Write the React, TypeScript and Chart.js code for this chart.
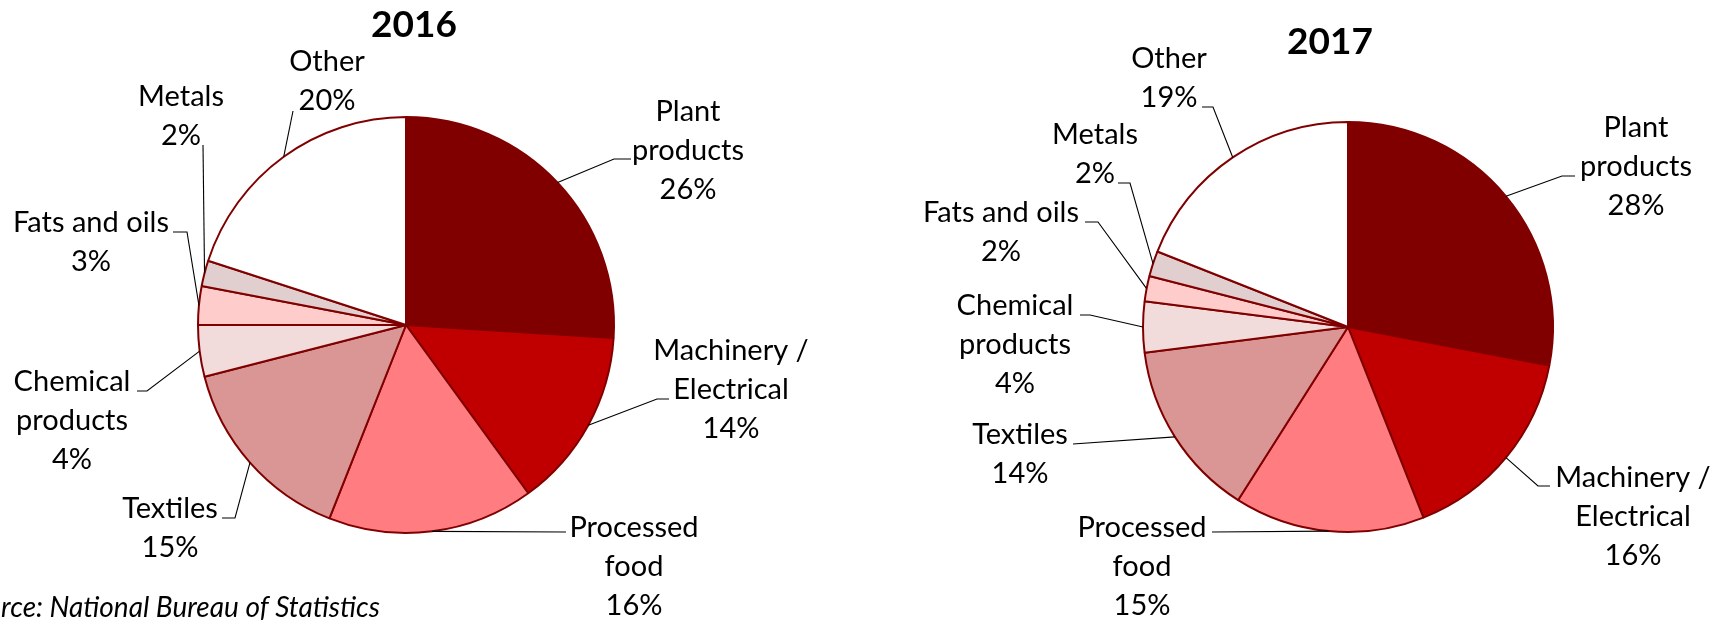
import React, { useEffect, useRef } from "react";
import { Chart, registerables } from "chart.js";

Chart.register(...registerables);

// ---------- data ----------
const categories = [
  "Plant products",
  "Machinery / Electrical",
  "Processed food",
  "Textiles",
  "Chemical products",
  "Fats and oils",
  "Metals",
  "Other",
];
const values2016 = [26, 14, 16, 15, 4, 3, 2, 20];
const values2017 = [28, 16, 15, 14, 4, 2, 2, 19];
const titles = ["2016", "2017"];
const sourceNote = "Source: National Bureau of Statistics";

// ---------- styles / layout ----------
const sliceColors = ["#800000", "#C00000", "#FF7C80", "#D99694", "#F2DCDB", "#FFCCCC", "#E1CFCF", "#FFFFFF"];
const labelLines: Record<string, string[]> = {
  "Plant products": ["Plant", "products"],
  "Machinery / Electrical": ["Machinery /", "Electrical"],
  "Processed food": ["Processed", "food"],
  "Textiles": ["Textiles"],
  "Chemical products": ["Chemical", "products"],
  "Fats and oils": ["Fats and oils"],
  "Metals": ["Metals"],
  "Other": ["Other"],
};
const FONT = "Lato, 'Open Sans', sans-serif";
const LABEL_SIZE = 29;
const LINE_H = 39;

type LabelPos = { dx: number; dy: number; ex: number; ey: number; kx: number };
type PieLayout = {
  left: number;
  width: number;
  cx: number;
  cy: number;
  r: number;
  titleDx: number;
  titleDy: number;
  labels: LabelPos[];
  source: boolean;
};

const layouts: PieLayout[] = [
  {
    left: 0,
    width: 862,
    cx: 406,
    cy: 325,
    r: 208,
    titleDx: 8,
    titleDy: -288,
    source: true,
    labels: [
      { dx: 282, dy: -204, ex: 225, ey: -166, kx: -17 },
      { dx: 325, dy: 35, ex: 263, ey: 74, kx: -12 },
      { dx: 228, dy: 212, ex: 160, ey: 207, kx: 0 },
      { dx: -236, dy: 193, ex: -184, ey: 193, kx: 13 },
      { dx: -334, dy: 66, ex: -269, ey: 66, kx: 10 },
      { dx: -315, dy: -93, ex: -233, ey: -93, kx: 14 },
      { dx: -225, dy: -219, ex: -203, ey: -180, kx: 0 },
      { dx: -79, dy: -254, ex: -113, ey: -214, kx: 0 },
    ],
  },
  {
    left: 862,
    width: 863,
    cx: 1348,
    cy: 327,
    r: 205,
    titleDx: -18,
    titleDy: -273,
    source: false,
    labels: [
      { dx: 288, dy: -190, ex: 227, ey: -151, kx: -13 },
      { dx: 285, dy: 160, ex: 202, ey: 159, kx: -12 },
      { dx: -206, dy: 210, ex: -136, ey: 205, kx: 0 },
      { dx: -328, dy: 117, ex: -275, ey: 117, kx: 0 },
      { dx: -333, dy: -12, ex: -268, ey: -12, kx: 10 },
      { dx: -347, dy: -105, ex: -263, ey: -105, kx: 13 },
      { dx: -253, dy: -183, ex: -230, ey: -144, kx: 12 },
      { dx: -179, dy: -259, ex: -146, ey: -220, kx: 11 },
    ],
  },
];

const HEIGHT = 620;

function PieChart({ values, title, layout }: { values: number[]; title: string; layout: PieLayout }) {
  const ref = useRef<HTMLCanvasElement | null>(null);

  useEffect(() => {
    if (!ref.current) return;
    const lcx = layout.cx - layout.left;
    const hx = 2 * lcx - layout.width;
    const vy = 2 * layout.cy - HEIGHT;
    const padding = {
      left: Math.max(0, hx),
      right: Math.max(0, -hx),
      top: Math.max(0, vy),
      bottom: Math.max(0, -vy),
    };

    const overlay = {
      id: "overlay",
      afterDraw(chart: any) {
        const ctx = chart.ctx as CanvasRenderingContext2D;
        const meta = chart.getDatasetMeta(0);
        ctx.save();
        meta.data.forEach((arc: any, i: number) => {
          const p = arc.getProps(["x", "y", "startAngle", "endAngle", "outerRadius"], true);
          const mid = (p.startAngle + p.endAngle) / 2;
          const ax = p.x + Math.cos(mid) * p.outerRadius;
          const ay = p.y + Math.sin(mid) * p.outerRadius;
          const L = layout.labels[i];
          const ex = p.x + L.ex;
          const ey = p.y + L.ey;
          ctx.strokeStyle = "#000000";
          ctx.lineWidth = 1.1;
          ctx.beginPath();
          ctx.moveTo(ax, ay);
          ctx.lineTo(ex + L.kx, ey);
          ctx.lineTo(ex, ey);
          ctx.stroke();

          const cat = categories[i];
          const lines = [...(labelLines[cat] || [cat]), `${Math.round(values[i])}%`];
          ctx.fillStyle = "#000000";
          ctx.font = `${LABEL_SIZE}px ${FONT}`;
          ctx.textAlign = "center";
          ctx.textBaseline = "alphabetic";
          lines.forEach((t, j) => ctx.fillText(t, p.x + L.dx, p.y + L.dy + j * LINE_H));
        });

        const c = meta.data[0] ? meta.data[0].getProps(["x", "y"], true) : { x: 0, y: 0 };
        ctx.font = `bold 37px ${FONT}`;
        ctx.textAlign = "center";
        ctx.fillStyle = "#000000";
        ctx.fillText(title, c.x + layout.titleDx, c.y + layout.titleDy);

        if (layout.source) {
          ctx.font = `italic 28px ${FONT}`;
          ctx.textAlign = "right";
          ctx.fillText(sourceNote, 380, 617);
        }
        ctx.restore();
      },
    };

    const chart = new Chart(ref.current, {
      type: "pie",
      data: {
        labels: categories,
        datasets: [
          {
            data: values,
            backgroundColor: sliceColors,
            borderColor: "#800000",
            borderWidth: 2,
            radius: layout.r,
          } as any,
        ],
      },
      options: {
        animation: false,
        responsive: false,
        maintainAspectRatio: false,
        events: [],
        layout: { padding },
        plugins: {
          legend: { display: false },
          tooltip: { enabled: false },
          title: { display: false },
        },
      },
      plugins: [overlay],
    });

    let alive = true;
    if ((document as any).fonts) {
      Promise.all([
        document.fonts.load(`${LABEL_SIZE}px Lato`),
        document.fonts.load(`bold 37px Lato`),
        document.fonts.load(`italic 28px Lato`),
      ]).then(() => {
        if (alive) chart.update();
      });
    }
    return () => {
      alive = false;
      chart.destroy();
    };
  }, [values, title, layout]);

  return (
    <canvas
      ref={ref}
      width={layout.width}
      height={HEIGHT}
      style={{ position: "absolute", left: layout.left, top: 0, width: layout.width, height: HEIGHT }}
    />
  );
}

export default function App() {
  return (
    <div
      style={{
        position: "fixed",
        left: 0,
        top: 0,
        width: 1725,
        height: HEIGHT,
        background: "#ffffff",
        overflow: "hidden",
      }}
    >
      <PieChart values={values2016} title={titles[0]} layout={layouts[0]} />
      <PieChart values={values2017} title={titles[1]} layout={layouts[1]} />
    </div>
  );
}
